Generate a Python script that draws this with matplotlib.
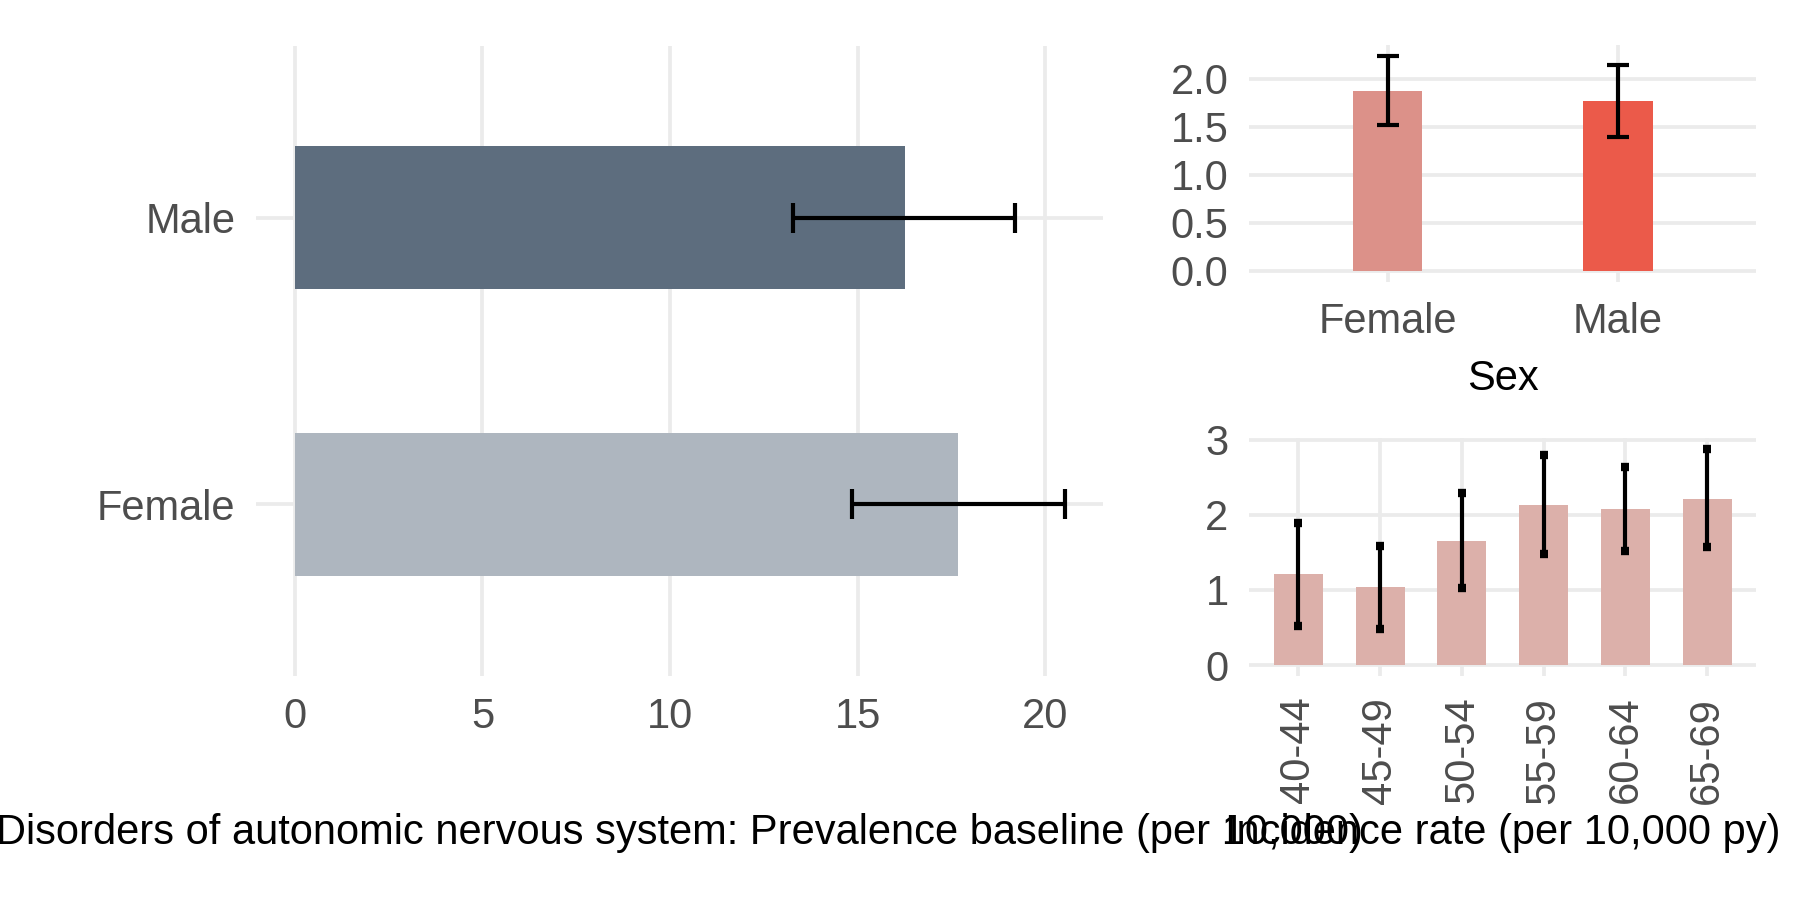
import matplotlib
matplotlib.use('Agg')
import matplotlib.pyplot as plt

plt.rcParams['font.family'] = ['Liberation Sans', 'DejaVu Sans']

# prevalence baseline by sex (per 10,000)
prev_sex = ['Female', 'Male']
prev_val = [17.68, 16.25]
prev_lo = [14.85, 13.28]
prev_hi = [20.52, 19.19]

# incidence rate by sex (per 10,000 py)
inc_sex = ['Female', 'Male']
inc_val = [1.875, 1.767]
inc_lo = [1.523, 1.391]
inc_hi = [2.243, 2.150]

# incidence rate by age group
age_groups = ['40-44', '45-49', '50-54', '55-59', '60-64', '65-69']
age_val = [1.21, 1.04, 1.65, 2.13, 2.08, 2.21]
age_lo = [0.52, 0.48, 1.02, 1.48, 1.52, 1.57]
age_hi = [1.89, 1.58, 2.29, 2.80, 2.64, 2.88]

PREV_COLS = ['#AEB6BF', '#5D6D7E']
INC_COLS = ['#DC9189', '#EB5A4A']
AGE_COL = '#DCB0AA'
FS = 10
TICK_C = '#4D4D4D'


def style(ax):
    for s in ax.spines.values():
        s.set_visible(False)
    ax.tick_params(length=0, labelsize=FS, labelcolor=TICK_C, pad=5)
    ax.grid(True, color='#EBEBEB', lw=0.9)
    ax.set_axisbelow(True)


def expand(lo, hi, frac=0.05):
    r = hi - lo
    return lo - frac * r, hi + frac * r


fig = plt.figure(figsize=(6, 3), dpi=300)

L_RECT = [0.1424, 0.2490, 0.4706, 0.6999]
TR_RECT = [0.6941, 0.6871, 0.2816, 0.2631]
BR_RECT = [0.6941, 0.2490, 0.2816, 0.2644]

# left panel: prevalence
ax1 = fig.add_axes(L_RECT)
style(ax1)
ypos = range(len(prev_sex))
ax1.barh(ypos, prev_val, height=0.5, color=PREV_COLS, zorder=2)
ax1.errorbar(prev_val, ypos,
             xerr=[[v - l for v, l in zip(prev_val, prev_lo)],
                   [h - v for v, h in zip(prev_val, prev_hi)]],
             fmt='none', ecolor='black', elinewidth=1.0, capsize=3.5,
             capthick=1.0, zorder=3)
ax1.set_yticks(list(ypos))
ax1.set_yticklabels(prev_sex)
ax1.set_ylim(-0.6, 1.6)
ax1.set_xlim(*expand(0, max(prev_hi)))
ax1.set_xticks([0, 5, 10, 15, 20])

# top right: incidence by sex
ax2 = fig.add_axes(TR_RECT)
style(ax2)
xpos = range(len(inc_sex))
ax2.bar(xpos, inc_val, width=0.3, color=INC_COLS, zorder=2)
ax2.errorbar(xpos, inc_val,
             yerr=[[v - l for v, l in zip(inc_val, inc_lo)],
                   [h - v for v, h in zip(inc_val, inc_hi)]],
             fmt='none', ecolor='black', elinewidth=1.0, capsize=2.6,
             capthick=1.0, zorder=3)
ax2.set_xticks(list(xpos))
ax2.set_xticklabels(inc_sex)
ax2.set_xlim(-0.6, 1.6)
ax2.set_ylim(*expand(0, max(inc_hi)))
ax2.set_yticks([0, 0.5, 1.0, 1.5, 2.0])
ax2.set_yticklabels(['0.0', '0.5', '1.0', '1.5', '2.0'])
ax2.set_xlabel('Sex', fontsize=FS, color='black', labelpad=4)

# bottom right: incidence by age group
ax3 = fig.add_axes(BR_RECT)
style(ax3)
apos = range(len(age_groups))
ax3.bar(apos, age_val, width=0.6, color=AGE_COL, zorder=2)
ax3.errorbar(apos, age_val,
             yerr=[[v - l for v, l in zip(age_val, age_lo)],
                   [h - v for v, h in zip(age_val, age_hi)]],
             fmt='none', ecolor='black', elinewidth=1.0, capsize=1.0,
             capthick=2.0, zorder=3)
ax3.set_xticks(list(apos))
ax3.set_xticklabels(age_groups, rotation=90)
ax3.set_xlim(-0.6, 5.6)
ax3.set_ylim(*expand(0, max(age_hi)))
ax3.set_yticks([0, 1, 2, 3])

# bottom titles (they overlap in the original too)
fig.text(L_RECT[0] + L_RECT[2] / 2, 0.074,
         'Disorders of autonomic nervous system: Prevalence baseline (per 10,000)',
         ha='center', va='center', fontsize=FS, color='black')
fig.text(BR_RECT[0] + BR_RECT[2] / 2, 0.074, 'Incidence rate (per 10,000 py)',
         ha='center', va='center', fontsize=FS, color='black')

fig.savefig('out.png', dpi=300, facecolor='white')
